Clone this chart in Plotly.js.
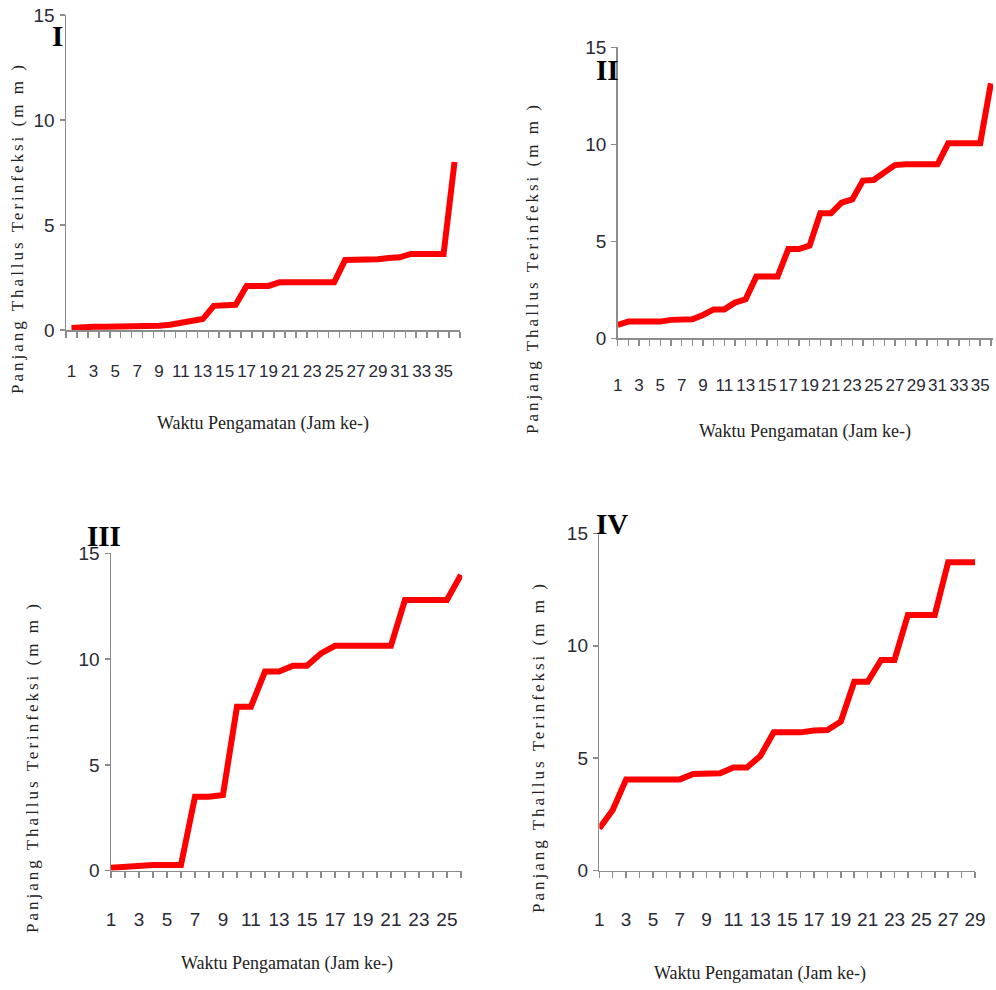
<!DOCTYPE html>
<html>
<head>
<meta charset="utf-8">
<script src="https://cdn.plot.ly/plotly-3.0.1.min.js"></script>
<style>
  html, body { margin: 0; padding: 0; background: #ffffff; }
  #chart { width: 996px; height: 990px; }
</style>
</head>
<body>
<div id="chart"></div>
<script>
// ---- data ----
const panelNames = ["I", "II", "III", "IV"];

const hoursI = Array.from({length: 36}, (_, i) => String(i + 1));
const lengthI = [0.1, 0.15, 0.15, 0.15, 0.15, 0.15, 0.15, 0.15, 0.2, 0.25, 0.35, 0.43,
                 0.52, 1.15, 1.15, 1.2, 2.1, 2.1, 2.1, 2.27, 2.27, 2.27, 2.27, 2.27,
                 2.27, 3.33, 3.33, 3.33, 3.37, 3.43, 3.46, 3.62, 3.62, 3.62, 3.62, 8.0];

const hoursII = Array.from({length: 36}, (_, i) => String(i + 1));
const lengthII = [0.69, 0.86, 0.86, 0.86, 0.86, 0.95, 0.98, 0.98, 1.2, 1.49, 1.49, 1.84,
                  2.01, 3.18, 3.18, 3.18, 4.6, 4.6, 4.78, 6.44, 6.44, 6.99, 7.16, 8.13,
                  8.16, 8.54, 8.93, 8.97, 8.97, 8.97, 8.97, 10.05, 10.05, 10.05, 10.05, 13.14];

const hoursIII = Array.from({length: 26}, (_, i) => String(i + 1));
const lengthIII = [0.14, 0.19, 0.27, 0.27, 0.27, 0.27, 3.5, 3.5, 3.58, 7.75, 7.75, 9.41,
                   9.41, 9.69, 9.69, 10.27, 10.63, 10.63, 10.63, 10.63, 10.63, 12.79, 12.79,
                   12.79, 12.79, 13.98];

const hoursIV = Array.from({length: 29}, (_, i) => String(i + 1));
const lengthIV = [1.88, 2.7, 4.06, 4.06, 4.06, 4.06, 4.06, 4.3, 4.33, 4.33, 4.59, 4.59,
                  5.1, 6.15, 6.15, 6.15, 6.23, 6.25, 6.63, 8.4, 8.4, 9.37, 9.37, 11.37,
                  11.37, 11.37, 13.71, 13.71, 13.71];

const yTickVals = [0, 5, 10, 15];
const xTitleText = "Waktu Pengamatan (Jam ke-)";
const yTitleText = "Panjang Thallus Terinfeksi (m m )";

// ---- layout helpers (pixel -> paper) ----
const W = 996, H = 990;
const px = x => x / W;
const py = y => 1 - y / H;

const tickFontFamily = "Liberation Sans Narrow, Arial Narrow, Liberation Sans, sans-serif";
const tickColor = "#2a2a36";
const axisColor = "#8c8c8c";

function oddLabels(cats) {
  return cats.map((c, i) => (i % 2 === 0 ? c : ""));
}

function xAxis(cats, domain, range, boundaries, fsize) {
  return {
    type: "category",
    domain: domain,
    range: range,
    tickmode: "array",
    tickvals: cats,
    ticktext: oddLabels(cats),
    tickson: boundaries ? "boundaries" : "labels",
    tickangle: 0,
    ticks: "outside",
    ticklen: 6,
    tickwidth: 1.5,
    tickcolor: axisColor,
    showline: true,
    linecolor: axisColor,
    linewidth: 1.5,
    showgrid: false,
    zeroline: false,
    tickfont: {family: tickFontFamily, size: fsize, color: tickColor},
    ticklabelstandoff: 25,
    fixedrange: true
  };
}

function yAxis(domain) {
  return {
    domain: domain,
    range: [0, 15],
    tickmode: "array",
    tickvals: yTickVals,
    ticks: "outside",
    ticklen: 5,
    tickwidth: 1.5,
    tickcolor: axisColor,
    showline: true,
    linecolor: axisColor,
    linewidth: 1.5,
    showgrid: false,
    zeroline: false,
    tickfont: {family: tickFontFamily, size: 19, color: tickColor},
    ticklabelstandoff: 1,
    fixedrange: true
  };
}

const lineStyle = {color: "#ff0000", width: 6, shape: "linear"};

const traces = [
  {x: hoursI, y: lengthI, xaxis: "x", yaxis: "y", mode: "lines", line: lineStyle, hoverinfo: "x+y"},
  {x: hoursII, y: lengthII, xaxis: "x2", yaxis: "y2", mode: "lines", line: lineStyle, hoverinfo: "x+y"},
  {x: hoursIII, y: lengthIII, xaxis: "x3", yaxis: "y3", mode: "lines", line: lineStyle, hoverinfo: "x+y"},
  {x: hoursIV, y: lengthIV, xaxis: "x4", yaxis: "y4", mode: "lines", line: lineStyle, hoverinfo: "x+y"}
];

const titleFont = {family: "Liberation Serif, Times New Roman, serif", size: 18, color: "#222222"};
const yTitleFont = {family: "Liberation Serif, Times New Roman, serif", size: 17, color: "#222222"};
const panelFont = {family: "Liberation Serif, Times New Roman, serif", size: 29, color: "#000000", weight: "bold"};

function xTitle(cx, cy) {
  return {xref: "paper", yref: "paper", x: px(cx), y: py(cy), xanchor: "center", yanchor: "middle",
          text: xTitleText, showarrow: false, font: titleFont};
}
function yTitle(cx, cy) {
  return {xref: "paper", yref: "paper", x: px(cx), y: py(cy), xanchor: "center", yanchor: "middle",
          textangle: -90, text: '<span style="letter-spacing:3px">' + yTitleText + '</span>',
          showarrow: false, font: yTitleFont};
}
function panelLabel(txt, cx, cy) {
  return {xref: "paper", yref: "paper", x: px(cx), y: py(cy), xanchor: "center", yanchor: "middle",
          text: "<b>" + txt + "</b>", showarrow: false, font: panelFont};
}

const layout = {
  width: W, height: H,
  margin: {l: 0, r: 0, t: 0, b: 0},
  paper_bgcolor: "#ffffff",
  plot_bgcolor: "#ffffff",
  showlegend: false,
  xaxis:  Object.assign(xAxis(hoursI,  [px(66), px(460)],    [-0.5, 35.5], true, 17), {anchor: "y"}),
  yaxis:  Object.assign(yAxis([py(330), py(15)]), {anchor: "x"}),
  xaxis2: Object.assign(xAxis(hoursII, [px(617.7), px(993)], [0, 35.2], false, 17), {anchor: "y2"}),
  yaxis2: Object.assign(yAxis([py(338.3), py(47.3)]), {anchor: "x2"}),
  xaxis3: Object.assign(xAxis(hoursIII, [px(111), px(462.3)], [0, 25.1], false, 19), {anchor: "y3"}),
  yaxis3: Object.assign(yAxis([py(870.7), py(553.3)]), {anchor: "x3"}),
  xaxis4: Object.assign(xAxis(hoursIV, [px(599.3), px(975)], [0, 28], false, 19), {anchor: "y4"}),
  yaxis4: Object.assign(yAxis([py(870.7), py(533.3)]), {anchor: "x4"}),
  annotations: [
    xTitle(263, 423), yTitle(17, 228), panelLabel(panelNames[0], 57, 36),
    xTitle(805, 432), yTitle(533, 268), panelLabel(panelNames[1], 607, 70),
    xTitle(287, 963), yTitle(32, 767), panelLabel(panelNames[2], 104, 536),
    xTitle(760, 973), yTitle(538, 747), panelLabel(panelNames[3], 612, 524)
  ]
};

Plotly.newPlot("chart", traces, layout, {displayModeBar: false, staticPlot: true});
</script>
</body>
</html>
